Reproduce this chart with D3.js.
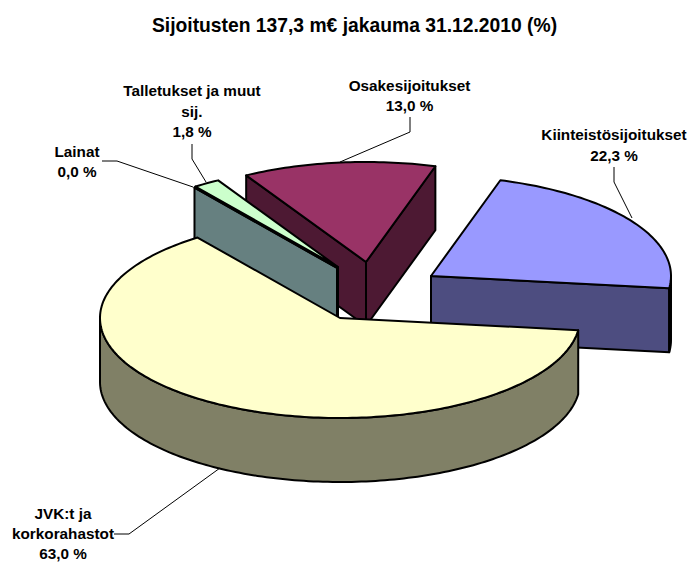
<!DOCTYPE html>
<html><head><meta charset="utf-8">
<script src="https://d3js.org/d3.v7.min.js"></script>
<style>html,body{margin:0;background:#fff}svg{display:block}text{font-family:"Liberation Sans",Arial,sans-serif;font-weight:bold;fill:#000}</style>
</head><body><div id="c"></div>
<script>
const title = "Sijoitusten 137,3 m€ jakauma 31.12.2010 (%)";
const categories = ["JVK:t ja korkorahastot","Lainat","Talletukset ja muut sij.","Osakesijoitukset","Kiinteistösijoitukset"];
const values = [63.0,0.0,1.8,13.0,22.3];
const valueLabels = ["63,0 %","0,0 %","1,8 %","13,0 %","22,3 %"];
const topColors = ["#FFFFCC","#CCFFFF","#CCFFCC","#993366","#9999FF"];
const sideColors = ["#808066","#668080","#668066","#4D1933","#4D4D80"];

const W=688,H=562, rx=240, ry=100, depth=64, firstAngle=97;
// layout: where each exploded slice's apex sits
const apexX=[340,337,338,366,431], apexY=[318,268,267,262,276];
const paintOrder=[3,4,2,1,0];
const labelLines=[["JVK:t ja","korkorahastot","63,0 %"],["Lainat","0,0 %"],["Talletukset ja muut","sij.","1,8 %"],["Osakesijoitukset","13,0 %"],["Kiinteistösijoitukset","22,3 %"]];
const labelX=[63,77,192,409.5,614], labelY=[[519,539,558.5],[157,176.5],[96,117,137],[91,111],[139.5,160.5]];
const leaders=[[[114,534],[129,534],[220,468]],[[102,161],[117,161],[193,187]],[[192,144],[192,159],[206,182]],[[410,117],[410,132],[340,162]],[[614,167],[614,182],[632,218]]];

const svg=d3.select("#c").append("svg").attr("width",W).attr("height",H);
svg.append("text").attr("x",354.5).attr("y",32).attr("text-anchor","middle").attr("font-size",19.3).text(title);

const pie=d3.pie().sort(null).startAngle(firstAngle*Math.PI/180).endAngle((firstAngle+360)*Math.PI/180);
const arcs=pie(values);
const sx=d3.scaleLinear().domain([-1,1]).range([-rx,rx]);
const sy=d3.scaleLinear().domain([-1,1]).range([ry,-ry]);
const line=d3.line();
const pt=(i,a,dz=0)=>[apexX[i]+sx(Math.sin(a)),apexY[i]+sy(Math.cos(a))+dz];
const arcPts=(i,a0,a1,dz=0)=>{const n=Math.max(2,Math.ceil(Math.abs(a1-a0)/0.02));return d3.range(n+1).map(k=>pt(i,a0+(a1-a0)*k/n,dz));};
const style=(s,fill)=>s.attr("fill",fill).attr("stroke","#000").attr("stroke-width",2).attr("stroke-linejoin","round");

paintOrder.forEach(i=>{
  const g=svg.append("g"), a=arcs[i], a0=a.startAngle, a1=a.endAngle;
  const ap=[apexX[i],apexY[i]], apB=[apexX[i],apexY[i]+depth];
  const wall=t=>style(g.append("path").attr("d",line([ap,pt(i,t),pt(i,t,depth),apB])+"Z"),sideColors[i]);
  if(Math.sin(a0)<0) wall(a0);
  if(Math.sin(a1)>0) wall(a1);
  // visible rim: part of the slice facing the viewer
  [0,2*Math.PI].forEach(off=>{
    const r0=Math.max(a0,Math.PI/2+off), r1=Math.min(a1,1.5*Math.PI+off);
    if(r1>r0){
      const top=arcPts(i,r0,r1), bot=arcPts(i,r1,r0,depth);
      style(g.append("path").attr("d",line(top.concat(bot))+"Z"),sideColors[i]);
    }
  });
  style(g.append("path").attr("d",line([ap,...arcPts(i,a0,a1)])+"Z"),topColors[i]);
});

leaders.forEach(p=>svg.append("path").attr("d",line(p)).attr("fill","none").attr("stroke","#000").attr("stroke-width",1));
labelLines.forEach((ls,i)=>ls.forEach((t,k)=>svg.append("text").attr("x",labelX[i]).attr("y",labelY[i][k]).attr("text-anchor","middle").attr("font-size",15.3).text(t)));
</script></body></html>
